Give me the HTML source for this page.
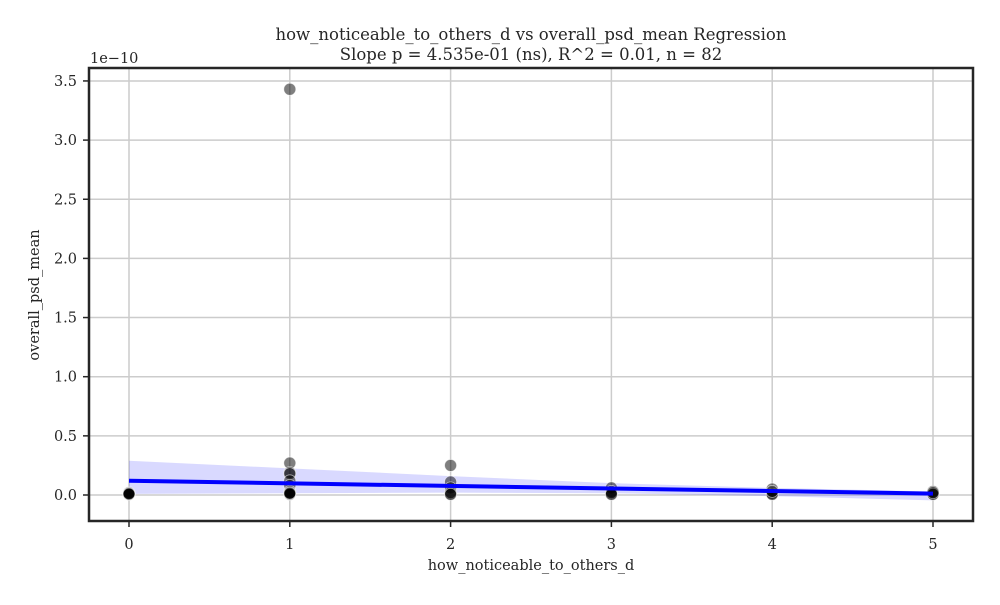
<!DOCTYPE html>
<html><head><meta charset="utf-8"><style>
body{margin:0;background:#fff;}
svg text{font-family:"DejaVu Serif","Liberation Serif",serif;fill:#262626;}
</style></head><body>
<svg id="chart" width="1000" height="600" xmlns="http://www.w3.org/2000/svg"></svg>
<script>
const xTicks=[0,1,2,3,4,5];
const yTicks=[0,0.5,1.0,1.5,2.0,2.5,3.0,3.5];
const yTickLabels=["0.0","0.5","1.0","1.5","2.0","2.5","3.0","3.5"];
const pointX=[0,0,0,0,0,0,1,1,1,1,1,1,1,1,1,1,1,1,2,2,2,2,2,2,3,3,3,3,3,4,4,4,4,4,5,5,5,5];
const pointY=[0.01,0.02,0.01,0.015,0.005,0.01,3.43,0.27,0.19,0.18,0.12,0.08,0.03,0.01,0.02,0.005,0.01,0.015,0.25,0.11,0.06,0.01,0.02,0.005,0.06,0.03,0.01,0.02,0.005,0.05,0.02,0.01,0.005,0.03,0.03,0.01,0.005,0.02];
const lineX=[0,5];
const lineY=[0.12,0.012];
const bandX=[0,1,2,3,4,5];
const bandUpper=[0.29,0.225,0.16,0.1,0.06,0.03];
const bandLower=[0.01,0.015,0.02,0.015,-0.01,-0.045];

const L=89,R=973,T=68,B=521;
const sx=v=>129+v*160.8;
const sy=v=>495-v*118.3;
const svg=document.getElementById('chart');
const NS="http://www.w3.org/2000/svg";
function mk(tag,attrs,parent){const e=document.createElementNS(NS,tag);for(const k in attrs)e.setAttribute(k,attrs[k]);(parent||svg).appendChild(e);return e;}

const grid=mk('g',{});


xTicks.forEach(t=>{mk('line',{x1:sx(t),x2:sx(t),y1:T,y2:B,stroke:'#cccccc','stroke-width':1.5},grid);});
yTicks.forEach(t=>{mk('line',{x1:L,x2:R,y1:sy(t),y2:sy(t),stroke:'#cccccc','stroke-width':1.5},grid);});

let pts=bandX.map((x,i)=>sx(x)+','+sy(bandUpper[i]));
for(let i=bandX.length-1;i>=0;i--)pts.push(sx(bandX[i])+','+sy(bandLower[i]));
const band=mk('polygon',{points:pts.join(' '),fill:'rgba(0,0,255,0.15)'});



const pg=mk('g',{});


pointX.forEach((x,i)=>{
  const c=mk('circle',{cx:sx(x),cy:sy(pointY[i]),r:6,fill:'rgba(0,0,0,0.5)',stroke:'rgba(255,255,255,0.6)','stroke-width':0.8},pg);
  
  
});

const rl=mk('line',{x1:sx(lineX[0]),y1:sy(lineY[0]),x2:sx(lineX[1]),y2:sy(lineY[1]),stroke:'#0000ff','stroke-width':4});



const frame=mk('rect',{x:L,y:T,width:R-L,height:B-T,fill:'none',stroke:'#262626','stroke-width':2.5});



xTicks.forEach(t=>{
  mk('line',{x1:sx(t),x2:sx(t),y1:B,y2:B+6,stroke:'#262626','stroke-width':1.5});
  const tx=mk('text',{x:sx(t),y:B+28,'text-anchor':'middle','font-size':14.5});
  tx.textContent=t;
  
  
});
yTicks.forEach((t,i)=>{
  mk('line',{x1:L-6,x2:L,y1:sy(t),y2:sy(t),stroke:'#262626','stroke-width':1.5});
  const tx=mk('text',{x:L-12,y:sy(t)+5,'text-anchor':'end','font-size':14.5});
  tx.textContent=yTickLabels[i];
  
  
});
function txt(s,a,name){const e=mk('text',a);e.textContent=s;return e;}
txt('1e\u221210',{x:90,y:63,'font-size':14.5},'y-offset-label');
txt('how_noticeable_to_others_d vs overall_psd_mean Regression',{x:531,y:40,'text-anchor':'middle','font-size':16.5},'chart-title');
txt('Slope p = 4.535e-01 (ns), R^2 = 0.01, n = 82',{x:531,y:60,'text-anchor':'middle','font-size':16.5},'chart-subtitle');
txt('how_noticeable_to_others_d',{x:531,y:570,'text-anchor':'middle','font-size':14.5},'x-axis-title');
txt('overall_psd_mean',{x:39,y:295,'text-anchor':'middle','font-size':14.5,transform:'rotate(-90 39 295)'},'y-axis-title');
</script>
</body></html>
